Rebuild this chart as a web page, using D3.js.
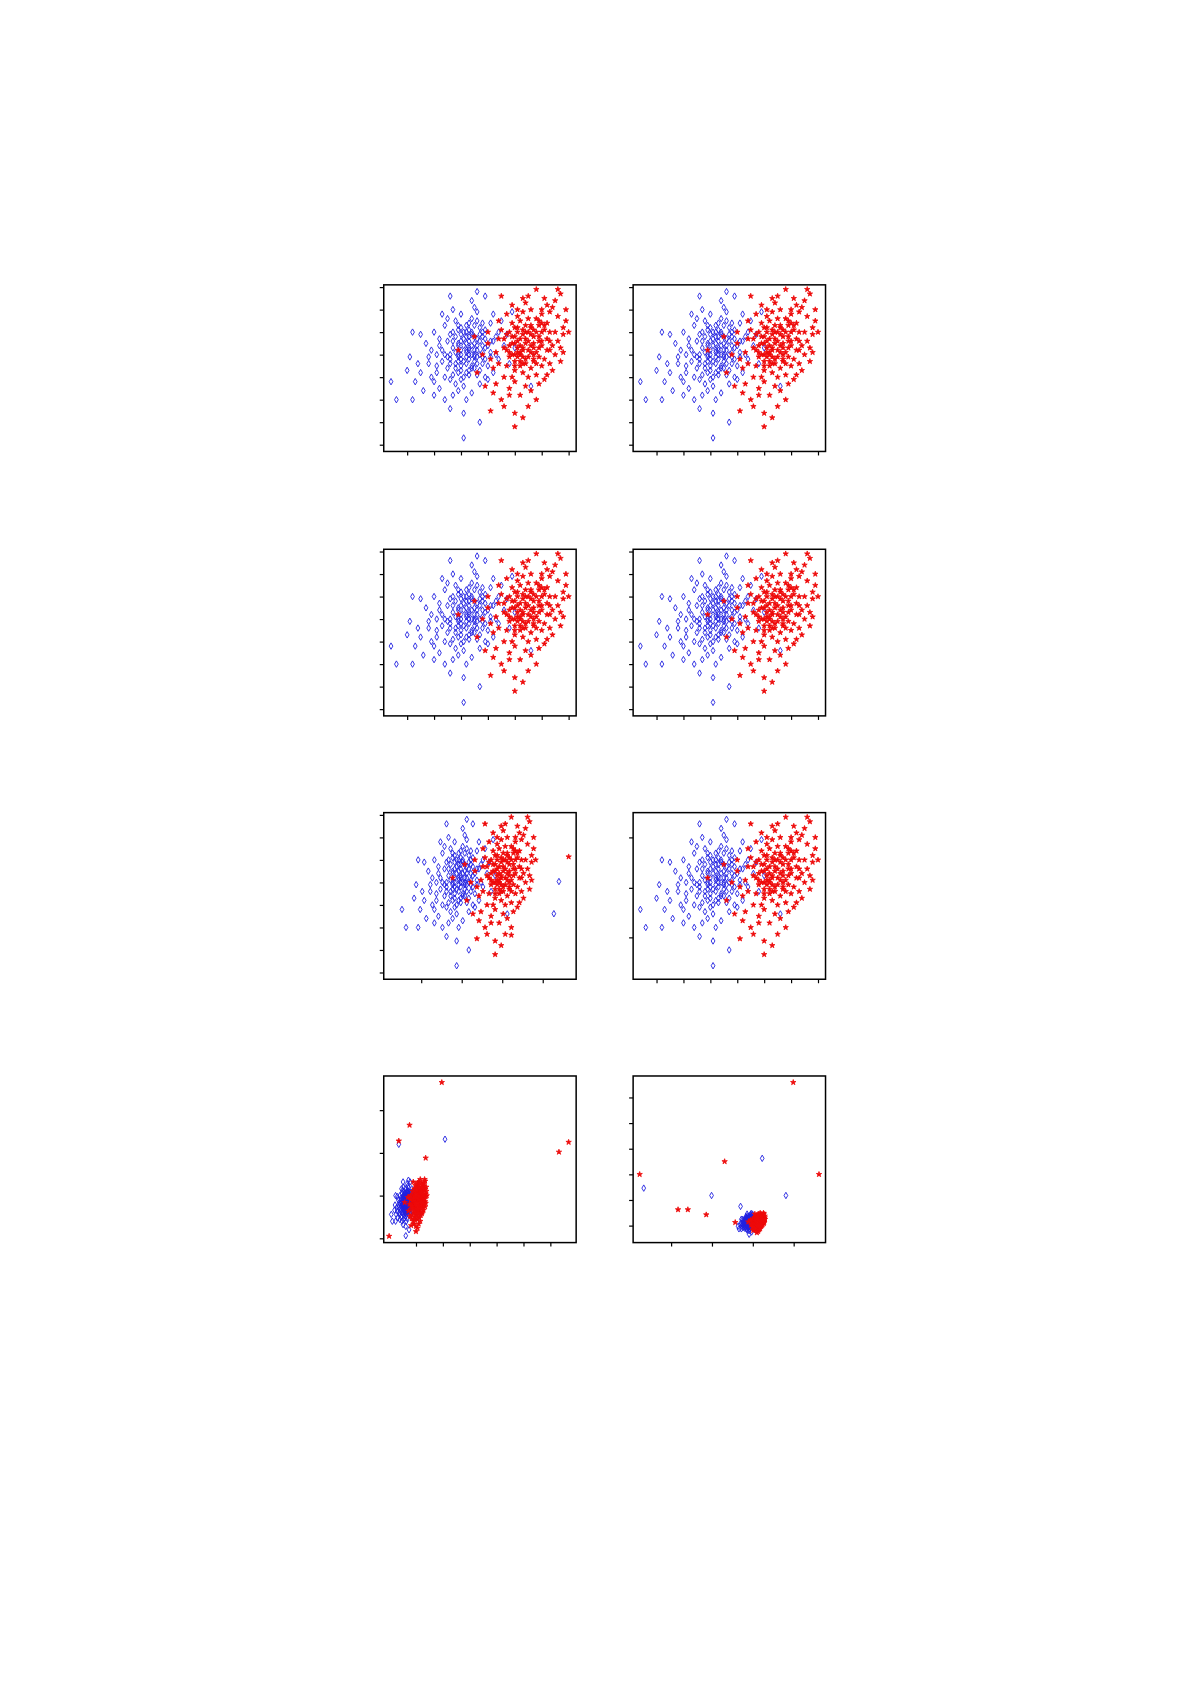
<!DOCTYPE html>
<html>
<head>
<meta charset="utf-8">
<script src="https://cdn.jsdelivr.net/npm/d3@7"></script>
<style>body{margin:0;background:#fff}</style>
</head>
<body>
<script>
// base clusters
const blue = [[3.2,4.1],[2.8,3.6],[3.5,4.5],[2.4,4.0],[3.9,3.8],[3.0,5.2],[2.6,2.9],[3.7,4.9],[3.3,3.3],[2.1,3.5],
[4.1,4.6],[2.9,4.4],[3.6,3.1],[2.2,4.7],[3.4,5.6],[1.8,3.9],[3.1,2.6],[4.3,4.0],[2.7,5.0],[3.8,5.4],
[1.5,3.2],[3.0,3.8],[3.3,4.8],[2.5,3.4],[4.0,3.5],[2.9,2.4],[3.6,5.9],[1.2,2.0],[3.2,4.5],[2.3,4.2],
[4.4,5.0],[3.5,3.7],[2.0,2.8],[3.9,4.3],[2.8,5.5],[3.1,3.0],[1.7,4.5],[4.2,3.2],[3.4,6.4],[2.6,3.8],
[3.7,2.7],[2.4,5.3],[3.0,4.0],[4.6,4.4],[1.9,3.0],[3.3,5.1],[2.7,2.2],[3.8,3.9],[2.1,4.0],[3.5,6.1],
[0.6,2.0],[2.9,3.2],[4.1,5.4],[3.2,2.0],[2.5,4.6],[1.4,3.6],[3.6,4.2],[2.2,2.5],[4.8,3.6],[3.0,5.8],
[3.4,3.5],[2.6,4.9],[3.9,6.6],[1.6,2.4],[2.8,4.1],[3.7,3.3],[2.0,5.0],[4.3,4.8],[3.1,1.4],[2.3,3.7],
[3.5,4.0],[1.1,3.9],[2.9,5.3],[4.0,2.9],[3.3,4.3],[2.4,2.0],[3.8,5.0],[1.9,4.2],[3.0,3.5],[4.5,5.5],
[2.7,3.1],[3.6,6.8],[1.3,2.8],[3.2,3.9],[2.5,5.6],[4.1,4.1],[3.4,2.3],[2.1,3.2],[3.7,4.6],[2.8,2.7],
[0.4,2.8],[3.9,3.0],[3.1,4.7],[2.6,1.6],[4.7,4.9],[3.5,5.3],[1.8,3.6],[2.9,4.5],[4.2,5.8],[3.3,3.1],
[5.0,4.3],[2.2,4.4],[3.6,3.6],[2.7,6.0],[1.0,3.3],[3.4,4.9],[3.0,2.9],[4.4,3.8],[2.4,3.0],[3.8,4.4],
[5.6,2.6],[1.5,4.9],[3.2,5.0],[2.0,2.2],[2.6,6.6],[4.9,5.9],[3.7,1.0],[1.2,5.0],[3.1,0.3],[2.3,5.8],
[3.3,4.2],[3.0,4.6],[3.6,3.9],[2.9,3.9],[3.5,4.8],[3.2,3.6],[3.8,4.1],[2.7,4.3],[3.4,4.4],[3.1,5.0],
[3.7,5.2],[2.8,4.8],[3.3,3.8],[3.9,4.7],[3.0,4.2],[3.6,4.4],[2.6,4.0],[3.2,4.8],[3.4,3.4],[3.8,3.6],
[3.1,4.4],[2.9,5.1],[3.5,4.2],[3.3,5.4],[2.5,3.9],[4.0,4.4],[3.2,3.2],[3.6,5.5],[2.8,3.4],[3.4,4.0],
[3.0,3.3],[3.7,4.0],[3.2,4.2],[2.7,4.6],[3.9,5.1],[3.5,3.4],[3.1,3.7],[3.3,4.6],[4.1,3.9],[2.9,4.0],
[3.6,4.7],[3.0,4.9],[3.4,5.0],[3.8,4.8],[2.6,3.6],[3.2,5.3],[3.5,3.9],[4.2,4.6],[2.9,3.7],[3.3,4.0]]
const red = [[5.2,4.4],[5.6,4.9],[4.8,3.9],[5.9,5.3],[5.0,4.8],[6.3,4.6],[4.6,4.3],[5.4,3.6],[6.0,5.8],[5.1,5.2],
[4.4,4.7],[5.8,4.1],[5.3,3.2],[6.5,5.0],[4.9,4.5],[5.5,5.6],[6.1,3.8],[4.7,3.5],[5.7,4.5],[5.0,2.8],
[6.4,6.1],[5.2,4.0],[4.5,5.1],[5.9,4.8],[6.7,4.3],[4.8,2.5],[5.3,5.9],[6.2,5.4],[5.6,3.4],[4.3,4.1],
[5.1,4.6],[6.0,4.4],[5.4,6.3],[4.6,3.0],[6.6,5.7],[5.8,3.1],[4.9,5.4],[5.5,4.2],[6.3,3.6],[5.0,3.7],
[4.2,3.4],[5.7,5.1],[6.8,5.2],[5.2,2.2],[4.7,4.9],[6.1,6.5],[5.4,4.7],[4.0,4.5],[5.9,2.7],[6.5,4.0],
[5.3,3.9],[4.5,2.0],[6.0,5.0],[5.1,6.0],[6.9,6.0],[4.8,4.1],[5.6,2.4],[6.2,4.7],[4.4,5.5],[5.8,5.6],
[5.0,3.3],[6.4,3.3],[5.5,6.6],[4.1,3.8],[6.7,6.7],[5.3,4.3],[4.6,1.7],[5.9,4.6],[6.1,2.9],[5.2,5.5],
[4.9,3.0],[6.3,5.9],[5.7,3.7],[4.3,2.7],[6.6,4.6],[5.4,5.0],[5.0,1.4],[5.8,6.9],[6.0,3.5],[4.7,5.8],
[5.5,3.0],[6.8,4.9],[5.1,4.1],[4.4,3.6],[6.2,6.2],[5.6,5.3],[4.8,2.2],[6.4,4.4],[5.3,6.5],[5.9,3.9],
[3.8,4.0],[6.9,5.5],[5.2,3.5],[4.6,4.7],[6.1,5.3],[5.0,0.8],[5.7,4.0],[6.5,6.4],[4.2,2.3],[5.4,2.6],
[3.6,3.2],[6.3,4.2],[5.1,5.7],[4.9,6.2],[6.7,3.7],[5.5,1.7],[4.0,5.0],[6.0,6.0],[5.8,2.0],[3.9,2.6],
[7.0,5.0],[4.5,6.6],[6.2,3.1],[5.3,1.2],[3.5,4.8],[6.6,6.9],[2.9,4.2],[4.1,1.5],[6.8,4.1],[5.6,6.0],
[5.4,4.5],[5.1,4.3],[5.7,4.8],[5.0,4.0],[5.6,4.1],[5.3,5.1],[5.9,4.3],[4.9,4.8],[5.5,3.9],[5.2,4.7],
[5.8,5.0],[5.0,4.5],[5.4,3.8],[6.0,4.6],[5.3,4.2],[5.6,5.2],[4.8,4.4],[5.1,5.0],[5.7,3.8],[5.5,4.6],
[6.1,5.1],[4.7,4.2],[5.2,3.7],[5.9,5.5],[5.4,5.3],[5.0,3.5],[5.6,4.4],[5.3,4.9],[6.2,4.2],[4.9,4.0],
[5.8,3.6],[5.1,3.9],[5.5,5.0],[6.0,5.4],[5.3,3.6],[4.8,5.0],[5.7,4.3],[5.2,4.1],[6.3,5.0],[5.0,5.2]]

// outliers per panel
const red5 = [[8.63,5.14],[5.8,1.66]]
const blue5 = [[8.15,4.04],[7.9,2.61]]
const red7 = [[9.8,18.25],[3.8,13.25],[1.8,11.4],[6.8,9.4],[31.6,10.1],[33.4,11.25],[0,0.25]]
const blue7 = [[1.8,11.0],[10.4,11.6]]
const red8 = [[13.9,47.7],[-23.7,19.0],[20.2,19.0],[-2.9,23.0],[-14.3,8.0],[-11.9,8.0],[-7.4,6.4],[-0.3,4.0]]
const blue8 = [[-22.7,14.7],[6.3,24.0],[12.1,12.4],[-6.1,12.4],[1.0,9.0]]

const ticks7 = [1, 2, 3, 4, 5, 6, 7]
const ticksY8 = [0, 1, 2, 3, 4, 5, 6, 7]

const panels = [
  {xd: [0.13, 7.28], yd: [-0.3, 7.1], xt: ticks7, yt: ticksY8, r: [], b: []},
  {xd: [0.13, 7.28], yd: [-0.3, 7.1], xt: ticks7, yt: ticksY8, r: [], b: []},
  {xd: [0.13, 7.28], yd: [-0.3, 7.1], xt: ticks7, yt: ticksY8, r: [], b: []},
  {xd: [0.13, 7.28], yd: [-0.3, 7.1], xt: ticks7, yt: ticksY8, r: [], b: []},
  {xd: [-0.5, 9.0], yd: [-0.3, 7.1], xt: [1.35, 3.35, 5.35, 7.35], yt: ticksY8, r: red5, b: blue5},
  {xd: [0.13, 7.28], yd: [-0.3, 7.1], xt: ticks7, yt: [1.56, 3.76, 6.0], r: [], b: []},
  {xd: [-1, 34.8], yd: [-0.5, 19], xt: [5, 10, 15, 20, 25, 30], yt: [0, 5, 10, 15], r: red7, b: blue7},
  {xd: [-25.3, 21.8], yd: [-2.3, 49.7], xt: [-16, -6, 4, 14], yt: [3, 11, 19, 27, 35, 43], r: red8, b: blue8}
]

const K = 1191 / 1108
const W = 179 * K, H = 155 * K
const colX = [357 * K, 589 * K]
const rowY = [265 * K, 511 * K, 756 * K, 1001 * K]

const svg = d3.select('body').append('svg')
  .attr('width', 1191).attr('height', 1685)

const diamond = d3.symbol().type(d3.symbolDiamond).size(12)
const star = d3.symbol().type(d3.symbolStar).size(9)

panels.forEach((p, i) => {
  const g = svg.append('g')
    .attr('transform', `translate(${colX[i % 2]},${rowY[Math.floor(i / 2)]})`)
  const x = d3.scaleLinear().domain(p.xd).range([0, W])
  const y = d3.scaleLinear().domain(p.yd).range([H, 0])

  g.append('g').attr('transform', `translate(0,${H})`)
    .call(d3.axisBottom(x).tickValues(p.xt).tickFormat('').tickSize(4).tickSizeOuter(0))
  g.append('g')
    .call(d3.axisLeft(y).tickValues(p.yt).tickFormat('').tickSize(4).tickSizeOuter(0))
  g.selectAll('.domain').remove()
  g.selectAll('.tick line').attr('stroke-width', 1.2)

  g.selectAll('.b').data(blue.concat(p.b)).enter().append('path')
    .attr('d', diamond)
    .attr('transform', d => `translate(${x(d[0])},${y(d[1])})`)
    .attr('fill', 'none').attr('stroke', '#1f1fe0').attr('stroke-width', 0.9)
  g.selectAll('.r').data(red.concat(p.r)).enter().append('path')
    .attr('d', star)
    .attr('transform', d => `translate(${x(d[0])},${y(d[1])})`)
    .attr('fill', '#ee0a0a').attr('stroke', '#ee0a0a').attr('stroke-width', 0.8)

  g.append('rect').attr('width', W).attr('height', H)
    .attr('fill', 'none').attr('stroke', '#000').attr('stroke-width', 1.5)
})
</script>
</body>
</html>
